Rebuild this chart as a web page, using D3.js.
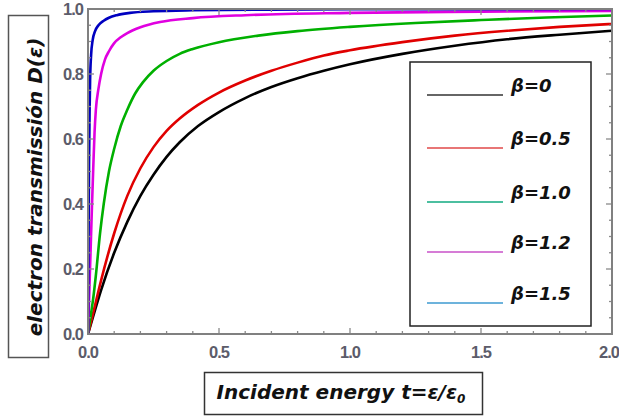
<!DOCTYPE html>
<html>
<head>
<meta charset="utf-8">
<script src="https://cdn.jsdelivr.net/npm/d3@7"></script>
<style>
  body { margin: 0; background: #fff; }
  svg { display: block; }
  .tick-label { font-family: "Liberation Sans Narrow", "Liberation Sans", Arial, sans-serif; font-size: 16.5px; fill: #5c5c6a; font-weight: bold; letter-spacing: -1px; }
  .title { font-family: "DejaVu Sans", sans-serif; font-weight: bold; font-style: oblique; fill: #111; }
</style>
</head>
<body>
<div id="root"></div>
<script>
// data: [t, D]
const seriesNames = ["β=0", "β=0.5", "β=1.0", "β=1.2", "β=1.5"];
const curveColors = ["#000000", "#e00000", "#00b000", "#e000e0", "#0000c0"];
const legendColors = ["#333333", "#e04848", "#10aa80", "#c850c8", "#3c9ad0"];

const beta0 = [[0,0],[0.02,0.055],[0.05,0.135],[0.1,0.25],[0.15,0.345],[0.2,0.425],[0.25,0.49],[0.3,0.545],[0.35,0.59],[0.42,0.64],[0.5,0.683],[0.6,0.726],[0.7,0.76],[0.8,0.787],[0.9,0.81],[1.0,0.83],[1.2,0.862],[1.4,0.887],[1.6,0.907],[1.8,0.921],[2.0,0.933]];
const beta05 = [[0,0],[0.02,0.065],[0.05,0.165],[0.1,0.31],[0.15,0.425],[0.2,0.51],[0.25,0.575],[0.3,0.625],[0.35,0.663],[0.42,0.705],[0.5,0.743],[0.6,0.78],[0.7,0.81],[0.8,0.835],[0.9,0.857],[1.0,0.873],[1.2,0.898],[1.4,0.918],[1.6,0.933],[1.8,0.945],[2.0,0.954]];
const beta10 = [[0,0],[0.01,0.055],[0.02,0.11],[0.03,0.18],[0.046,0.31],[0.06,0.4],[0.08,0.5],[0.1,0.57],[0.125,0.64],[0.15,0.69],[0.18,0.74],[0.21,0.775],[0.25,0.81],[0.3,0.84],[0.35,0.862],[0.4,0.877],[0.5,0.898],[0.65,0.918],[0.8,0.932],[1.0,0.945],[1.25,0.957],[1.5,0.966],[1.75,0.974],[2.0,0.98]];
const beta12 = [[0,0],[0.005,0.13],[0.01,0.26],[0.015,0.39],[0.02,0.51],[0.025,0.62],[0.03,0.69],[0.04,0.755],[0.05,0.8],[0.065,0.845],[0.08,0.87],[0.1,0.895],[0.125,0.913],[0.15,0.926],[0.2,0.944],[0.275,0.96],[0.4,0.972],[0.6,0.981],[1.0,0.988],[1.5,0.992],[2.0,0.994]];
const beta15 = [[0,0],[0.002,0.28],[0.004,0.52],[0.006,0.68],[0.008,0.78],[0.012,0.86],[0.018,0.905],[0.027,0.932],[0.04,0.95],[0.06,0.964],[0.08,0.973],[0.11,0.981],[0.16,0.988],[0.25,0.993],[0.4,0.996],[0.7,0.998],[1.0,0.999],[2.0,1.0]];
const allSeries = [beta0, beta05, beta10, beta12, beta15];

const xTicks = [0, 0.5, 1.0, 1.5, 2.0];
const yTicks = [0, 0.2, 0.4, 0.6, 0.8, 1.0];

const W = 619, H = 418;
const plot = {left: 88, right: 612, top: 9, bottom: 334};

const x = d3.scaleLinear().domain([0, 2]).range([plot.left, plot.right]);
const y = d3.scaleLinear().domain([0, 1]).range([plot.bottom, plot.top]);

const svg = d3.select("#root").append("svg")
    .attr("width", W)
    .attr("height", H);

svg.append("defs").append("clipPath").attr("id", "clip")
  .append("rect")
    .attr("x", plot.left).attr("y", plot.top)
    .attr("width", plot.right - plot.left).attr("height", plot.bottom - plot.top);

// curves
const line = d3.line()
    .curve(d3.curveMonotoneX)
    .x(d => x(d[0]))
    .y(d => y(d[1]));

svg.append("g").attr("clip-path", "url(#clip)")
  .selectAll("path")
  .data(allSeries)
  .enter().append("path")
    .attr("d", line)
    .attr("fill", "none")
    .attr("stroke", (d, i) => curveColors[i])
    .attr("stroke-width", 2.6);

// frame ticks (inward, all four sides)
const tickColor = "#8a8a8a";
const xMinor = d3.range(0, 2.0001, 0.1);
const yMinor = d3.range(0, 1.0001, 0.05);
const isMajorX = v => Math.abs(v / 0.5 - Math.round(v / 0.5)) < 1e-6;
const isMajorY = v => Math.abs(v / 0.2 - Math.round(v / 0.2)) < 1e-6;

const tg = svg.append("g").attr("stroke", tickColor).attr("stroke-width", 1.3);
xMinor.forEach(v => {
  const len = isMajorX(v) ? 6 : 3;
  tg.append("line").attr("x1", x(v)).attr("x2", x(v)).attr("y1", plot.bottom).attr("y2", plot.bottom - len);
  tg.append("line").attr("x1", x(v)).attr("x2", x(v)).attr("y1", plot.top).attr("y2", plot.top + len);
});
yMinor.forEach(v => {
  const len = isMajorY(v) ? 6 : 3;
  tg.append("line").attr("y1", y(v)).attr("y2", y(v)).attr("x1", plot.left).attr("x2", plot.left + len);
  tg.append("line").attr("y1", y(v)).attr("y2", y(v)).attr("x1", plot.right).attr("x2", plot.right - len);
});

// frame
svg.append("rect")
    .attr("x", plot.left).attr("y", plot.top)
    .attr("width", plot.right - plot.left).attr("height", plot.bottom - plot.top)
    .attr("fill", "none")
    .attr("stroke", "#808080")
    .attr("stroke-width", 2);

// tick labels
svg.append("g").selectAll("text")
  .data(xTicks)
  .enter().append("text")
    .attr("class", "tick-label")
    .attr("x", d => x(d))
    .attr("y", plot.bottom + 24)
    .attr("text-anchor", d => d === 2 ? "end" : "middle")
    .attr("dx", d => d === 2 ? 7 : 0)
    .text(d => d.toFixed(1));

svg.append("g").selectAll("text")
  .data(yTicks)
  .enter().append("text")
    .attr("class", "tick-label")
    .attr("x", plot.left - 5)
    .attr("y", d => y(d) + 6)
    .attr("text-anchor", "end")
    .text(d => d.toFixed(1));

// legend
const legend = svg.append("g");
legend.append("rect")
    .attr("x", 410).attr("y", 62)
    .attr("width", 181).attr("height", 264)
    .attr("fill", "#fff")
    .attr("stroke", "#222")
    .attr("stroke-width", 1.5);

const rowY = [95, 148, 202, 252, 303];
seriesNames.forEach((name, i) => {
  legend.append("line")
      .attr("x1", 427).attr("x2", 503)
      .attr("y1", rowY[i]).attr("y2", rowY[i])
      .attr("stroke", legendColors[i])
      .attr("stroke-width", 1.4);
  legend.append("text")
      .attr("class", "title")
      .attr("x", 511).attr("y", rowY[i] - 3)
      .style("font-size", "18px")
      .text(name);
});

// y axis title box
svg.append("rect")
    .attr("x", 8.5).attr("y", 15.5)
    .attr("width", 40).attr("height", 342)
    .attr("fill", "none")
    .attr("stroke", "#555")
    .attr("stroke-width", 1.5);
svg.append("text")
    .attr("class", "title")
    .attr("transform", "translate(42,187)rotate(-90)")
    .attr("text-anchor", "middle")
    .style("font-size", "20px")
    .text("electron transmissión D(ε)");

// x axis title box
svg.append("rect")
    .attr("x", 204.5).attr("y", 372.5)
    .attr("width", 278).attr("height", 42)
    .attr("fill", "none")
    .attr("stroke", "#333")
    .attr("stroke-width", 1.5);
const xt = svg.append("text")
    .attr("class", "title")
    .attr("x", 341).attr("y", 399)
    .attr("text-anchor", "middle")
    .style("font-size", "20px");
xt.append("tspan").text("Incident energy t=ε/ε");
xt.append("tspan").attr("dy", 4).style("font-size", "12px").text("0");
</script>
</body>
</html>
